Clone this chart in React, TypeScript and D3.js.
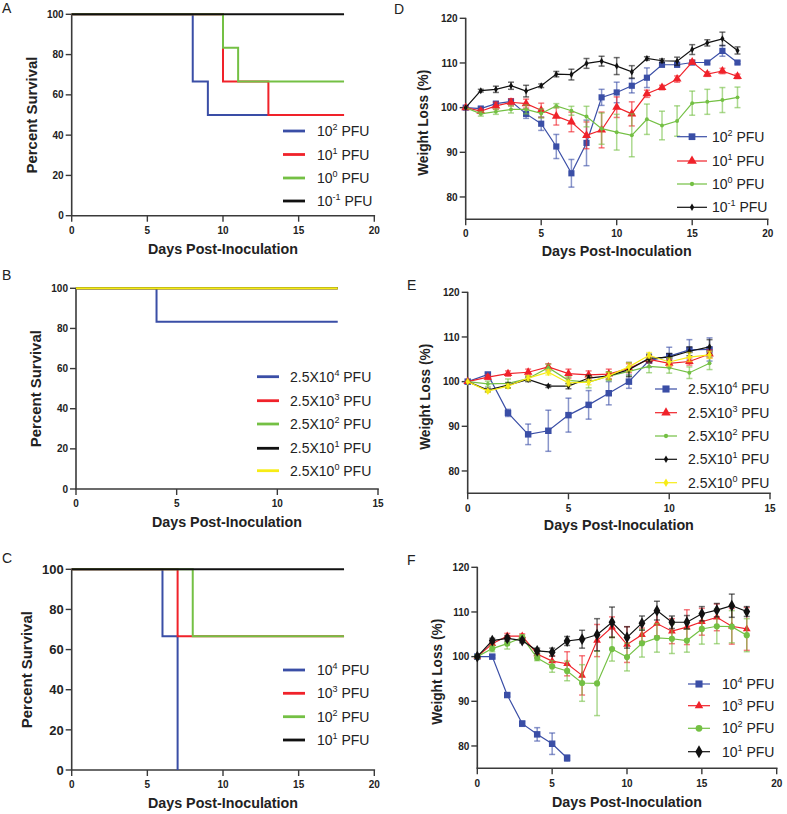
import React from "react";
import * as d3 from "d3";

// ---------------- DATA ----------------
const BLUE = "#3a4ea6";
const RED = "#f0222a";
const GREEN = "#74c044";
const BLACK = "#111111";
const YELLOW = "#f7ec16";

// Panel A survival (change points)
const aBlueDays = [0, 8, 9, 18];
const aBlueVals = [100, 66.67, 50, 50];
const aRedDays = [0, 10, 13, 18];
const aRedVals = [100, 66.67, 50, 50];
const aGreenDays = [0, 10, 11, 18];
const aGreenVals = [100, 83.33, 66.67, 66.67];
const aBlackDays = [0, 18];
const aBlackVals = [100, 100];
const aLegend = [["10", "2"], ["10", "1"], ["10", "0"], ["10", "-1"]];

// Panel B survival
const bBlueDays = [0, 4, 13];
const bBlueVals = [100, 83.33, 83.33];
const bFlatDays = [0, 13];
const bFlatVals = [100, 100];
const bLegend = [["2.5X10", "4"], ["2.5X10", "3"], ["2.5X10", "2"], ["2.5X10", "1"], ["2.5X10", "0"]];

// Panel C survival
const cBlueDays = [0, 6, 7];
const cBlueVals = [100, 66.67, 0];
const cRedDays = [0, 7, 18];
const cRedVals = [100, 66.67, 66.67];
const cGreenDays = [0, 8, 18];
const cGreenVals = [100, 66.67, 66.67];
const cBlackDays = [0, 18];
const cBlackVals = [100, 100];
const cLegend = [["10", "4"], ["10", "3"], ["10", "2"], ["10", "1"]];

// Panel D weight
const dDays = d3.range(0, 19);
const dBlueMean = [100, 99.8, 100.9, 101.4, 98.6, 96.4, 91.3, 85.3, 92.1, 102.3, 103.4, 104.9, 106.7, 109.6, 109.6, 110.1, 110.1, 112.7, 110.1];
const dBlueErr = [0, 0.3, 0.4, 0.5, 1.0, 1.5, 2.7, 3.1, 5.1, 1.8, 2.3, 1.6, 2.2, 0.5, 0.5, 0.3, 0.3, 1.2, 0.3];
const dRedMean = [100, 99.2, 100.4, 101.2, 100.9, 99.4, 98.1, 96.8, 93.8, 95.0, 100.1, 98.6, 103.1, 104.5, 106.4, 110.2, 107.5, 108.2, 107.0];
const dRedErr = [0, 0.5, 0.8, 0.8, 1.0, 1.6, 2.0, 2.2, 3.0, 4.0, 2.3, 2.7, 0.8, 0.5, 0.7, 0.4, 0.5, 0.6, 0.5];
const dGreenMean = [100, 98.6, 99.1, 99.6, 99.6, 98.7, 100.4, 99.3, 98.0, 95.3, 94.5, 93.8, 97.4, 96.0, 97.0, 101.0, 101.3, 101.7, 102.3];
const dGreenErr = [0, 0.5, 0.6, 0.8, 1.0, 1.0, 0.5, 1.0, 2.3, 3.5, 4.0, 4.8, 3.4, 3.2, 3.4, 2.7, 2.8, 2.8, 2.3];
const dBlackMean = [100, 103.8, 104.1, 104.9, 103.7, 104.9, 107.5, 107.4, 109.9, 110.4, 109.3, 108.0, 111.0, 110.5, 110.4, 113.0, 114.5, 115.4, 112.8];
const dBlackErr = [0, 0.3, 0.7, 0.8, 1.3, 0.4, 0.6, 1.2, 1.1, 1.1, 1.9, 1.4, 0.4, 0.4, 0.9, 1.1, 0.7, 1.5, 0.8];

// Panel E weight
const eDays = d3.range(0, 13);
const eBlueMean = [100, 101.6, 93.0, 88.2, 89.0, 92.5, 94.8, 97.4, 100.0, 104.7, 105.7, 107.1, 107.2];
const eBlueErr = [0, 0.3, 0.8, 2.3, 4.6, 3.8, 3.2, 2.6, 1.5, 1.5, 2.0, 2.3, 2.6];
const eRedMean = [100, 101.0, 101.8, 102.1, 103.3, 101.8, 101.5, 101.7, 103.0, 105.0, 104.1, 104.5, 106.2];
const eRedErr = [0, 0.5, 0.6, 0.7, 0.7, 1.0, 0.9, 1.1, 1.0, 0.8, 0.8, 0.8, 0.9];
const eGreenMean = [100, 99.5, 99.6, 100.7, 103.1, 100.3, 99.9, 101.2, 102.3, 103.4, 103.1, 102.0, 104.1];
const eGreenErr = [0, 0.6, 1.0, 0.5, 0.8, 0.8, 1.3, 1.0, 1.0, 1.4, 1.2, 1.3, 1.4];
const eBlackMean = [100, 98.1, 99.2, 100.5, 99.0, 99.0, 100.8, 101.3, 102.7, 105.2, 105.5, 106.8, 107.8];
const eBlackErr = [0, 0.4, 0.6, 0.5, 0.3, 0.6, 0.6, 0.8, 1.6, 0.8, 0.8, 1.0, 1.6];
const eYellowMean = [100, 97.9, 99.0, 100.8, 102.1, 99.7, 99.9, 101.3, 103.3, 105.9, 104.4, 105.5, 106.0];
const eYellowErr = [0, 0.3, 0.4, 0.5, 0.6, 0.6, 0.6, 0.8, 0.9, 0.6, 0.9, 1.0, 0.8];

// Panel F weight
const fDays = d3.range(0, 19);
const fBlueDays = d3.range(0, 7);
const fBlueMean = [100, 100.0, 91.4, 85.0, 82.6, 80.5, 77.3];
const fBlueErr = [0, 0.3, 0.3, 0.6, 1.5, 2.4, 0.7];
const fRedMean = [100, 102.9, 104.6, 104.6, 100.6, 99.0, 98.4, 95.8, 103.6, 106.6, 102.7, 104.9, 107.4, 105.7, 106.6, 107.8, 108.8, 106.8, 106.2];
const fRedErr = [0, 0.4, 0.6, 0.5, 0.8, 1.2, 2.7, 4.4, 3.6, 2.3, 4.0, 1.5, 2.8, 2.8, 3.9, 3.0, 3.0, 4.0, 4.8];
const fGreenMean = [100, 101.8, 102.9, 104.3, 99.7, 97.8, 96.8, 94.1, 94.0, 101.7, 99.9, 103.0, 104.2, 104.0, 103.6, 106.2, 106.8, 106.7, 104.8];
const fGreenErr = [0, 0.7, 1.2, 0.6, 0.6, 1.3, 2.2, 4.1, 7.2, 2.7, 3.1, 3.1, 3.2, 3.3, 2.6, 3.4, 3.9, 3.6, 3.7];
const fBlackMean = [100, 103.6, 104.1, 103.6, 101.3, 101.0, 103.5, 103.9, 104.9, 107.7, 104.3, 107.5, 110.3, 107.7, 107.7, 109.6, 110.4, 111.4, 110.1];
const fBlackErr = [0, 0.5, 0.6, 0.5, 0.6, 0.9, 1.0, 2.0, 3.6, 3.4, 2.4, 1.6, 2.1, 1.4, 1.5, 1.6, 1.5, 2.6, 1.1];

const survTicksY = [0, 20, 40, 60, 80, 100];
const weightTicksY = [80, 90, 100, 110, 120];
const ticks20 = [0, 5, 10, 15, 20];
const ticks15 = [0, 5, 10, 15];

// ---------------- RENDER ----------------
const FONT = "'Liberation Sans', Arial, Helvetica, sans-serif";
const AXIS = "#3a3a3a";

function LegendLabel({ x, y, base, sup }) {
  return (
    <text x={x} y={y + 5} fontFamily={FONT} fontSize={14} fill="#222">
      {base}
      <tspan fontSize={9} dy={-6}>{sup}</tspan>
      <tspan dy={6}> PFU</tspan>
    </text>
  );
}

function Axes({ xs, ys, xTicks, yTicks, yTickFont, xTitleY, xTickY, yTitleX, yTitleY, xTitleLen, yTitle, yTitleLen, letter, lx, ly }) {
  const [x0, x1] = xs.range();
  const yb = ys.range()[0];
  const yt = ys.range()[1];
  return (
    <g>
      <line x1={x0} x2={x0} y1={yb} y2={yt - 0.5} stroke={AXIS} strokeWidth={1.6} />
      <line x1={x0 - 0.8} x2={x1 + 0.8} y1={yb} y2={yb} stroke={AXIS} strokeWidth={1.6} />
      {yTicks.map((t) => (
        <g key={"y" + t}>
          <line x1={x0 - 6} x2={x0} y1={ys(t)} y2={ys(t)} stroke={AXIS} strokeWidth={1.4} />
          <text x={x0 - 8} y={ys(t) + yTickFont * 0.36} textAnchor="end" fontFamily={FONT} fontWeight="bold" fontSize={yTickFont} fill="#222">{t}</text>
        </g>
      ))}
      {xTicks.map((t) => (
        <g key={"x" + t}>
          <line x1={xs(t)} x2={xs(t)} y1={yb} y2={yb + 6} stroke={AXIS} strokeWidth={1.4} />
          <text x={xs(t)} y={xTickY} textAnchor="middle" fontFamily={FONT} fontWeight="bold" fontSize={10} fill="#222">{t}</text>
        </g>
      ))}
      <text x={(x0 + x1) / 2} y={xTitleY} textAnchor="middle" fontFamily={FONT} fontWeight="bold" fontSize={14} fill="#222" textLength={xTitleLen} lengthAdjust="spacingAndGlyphs">Days Post-Inoculation</text>
      <text transform={`translate(${yTitleX},${yTitleY}) rotate(-90)`} textAnchor="middle" fontFamily={FONT} fontWeight="bold" fontSize={14} fill="#222" textLength={yTitleLen} lengthAdjust="spacingAndGlyphs">{yTitle}</text>
      <text x={lx} y={ly} fontFamily={FONT} fontSize={14} fill="#222">{letter}</text>
    </g>
  );
}

function SurvivalPanel({ x0, x1, yTop, yBot, xMax, xTicks, series, legend, legendRows, yTickFont, xTickY, xTitleY, yTitleX, letter, lx, ly }) {
  const xs = d3.scaleLinear().domain([0, xMax]).range([x0, x1]);
  const ys = d3.scaleLinear().domain([0, 100]).range([yBot, yTop]);
  const line = d3.line().x((d) => xs(d[0])).y((d) => ys(d[1])).curve(d3.curveStepAfter);
  return (
    <g>
      <Axes xs={xs} ys={ys} xTicks={xTicks} yTicks={survTicksY} yTickFont={yTickFont} xTickY={xTickY} xTitleY={xTitleY}
        yTitleX={yTitleX} yTitleY={(yTop + yBot) / 2} xTitleLen={150} yTitle="Percent Survival" yTitleLen={117} letter={letter} lx={lx} ly={ly} />
      {series.map((s, i) => (
        <path key={i} d={line(s.days.map((d, j) => [d, s.vals[j]]))} fill="none" stroke={s.color} strokeWidth={2} />
      ))}
      {series.map((s, i) => (
        <g key={"l" + i}>
          <line x1={legend.lx1} x2={legend.lx2} y1={legendRows[i]} y2={legendRows[i]} stroke={s.color} strokeWidth={2.8} />
          <LegendLabel x={legend.tx} y={legendRows[i]} base={s.label[0]} sup={s.label[1]} />
        </g>
      ))}
    </g>
  );
}

function Marker({ shape, size, color, x, y }) {
  const sym = { square: d3.symbolSquare, triangle: d3.symbolTriangle, circle: d3.symbolCircle, diamond: d3.symbolDiamond }[shape];
  const p = d3.symbol().type(sym).size(size)();
  return <path d={p} transform={`translate(${x},${y})`} fill={color} />;
}

function WeightPanel({ x0, x1, yTop, yBot, xMax, xTicks, series, legend, legendRows, xTickY, xTitleY, yTitleX, letter, lx, ly }) {
  const xs = d3.scaleLinear().domain([0, xMax]).range([x0, x1]);
  const ys = d3.scaleLinear().domain([75, 120]).range([yBot, yTop]);
  const line = d3.line().x((d) => xs(d[0])).y((d) => ys(d[1]));
  return (
    <g>
      <Axes xs={xs} ys={ys} xTicks={xTicks} yTicks={weightTicksY} yTickFont={10} xTickY={xTickY} xTitleY={xTitleY}
        yTitleX={yTitleX} yTitleY={(ys(120) + ys(75)) / 2 + 4} xTitleLen={150} yTitle="Weight Loss (%)" yTitleLen={106} letter={letter} lx={lx} ly={ly} />
      {series.map((s, i) => (
        <g key={i}>
          <path d={line(s.days.map((d, j) => [d, s.mean[j]]))} fill="none" stroke={s.color} strokeWidth={1.2} />
          {s.days.map((d, j) =>
            s.err[j] > 0 ? (
              <g key={j} stroke={s.color} strokeOpacity={0.6} strokeWidth={1.5}>
                <line x1={xs(d)} x2={xs(d)} y1={ys(s.mean[j] - s.err[j])} y2={ys(s.mean[j] + s.err[j])} />
                <line x1={xs(d) - 3} x2={xs(d) + 3} y1={ys(s.mean[j] - s.err[j])} y2={ys(s.mean[j] - s.err[j])} />
                <line x1={xs(d) - 3} x2={xs(d) + 3} y1={ys(s.mean[j] + s.err[j])} y2={ys(s.mean[j] + s.err[j])} />
              </g>
            ) : null
          )}
          {s.days.map((d, j) => (
            <Marker key={"m" + j} shape={s.shape} size={s.size} color={s.color} x={xs(d)} y={ys(s.mean[j])} />
          ))}
        </g>
      ))}
      {series.map((s, i) => (
        <g key={"l" + i}>
          <line x1={legend.lx1} x2={legend.lx2} y1={legendRows[i]} y2={legendRows[i]} stroke={s.color} strokeWidth={1.2} />
          <Marker shape={s.shape} size={s.size * 1.2} color={s.color} x={(legend.lx1 + legend.lx2) / 2} y={legendRows[i]} />
          <LegendLabel x={legend.tx} y={legendRows[i]} base={s.label[0]} sup={s.label[1]} />
        </g>
      ))}
    </g>
  );
}

export default function App() {
  const aSeries = [
    { days: aBlueDays, vals: aBlueVals, color: BLUE, label: aLegend[0] },
    { days: aRedDays, vals: aRedVals, color: RED, label: aLegend[1] },
    { days: aGreenDays, vals: aGreenVals, color: GREEN, label: aLegend[2] },
    { days: aBlackDays, vals: aBlackVals, color: BLACK, label: aLegend[3] },
  ];
  const bSeries = [
    { days: bBlueDays, vals: bBlueVals, color: BLUE, label: bLegend[0] },
    { days: bFlatDays, vals: bFlatVals, color: RED, label: bLegend[1] },
    { days: bFlatDays, vals: bFlatVals, color: GREEN, label: bLegend[2] },
    { days: bFlatDays, vals: bFlatVals, color: BLACK, label: bLegend[3] },
    { days: bFlatDays, vals: bFlatVals, color: YELLOW, label: bLegend[4] },
  ];
  const cSeries = [
    { days: cBlueDays, vals: cBlueVals, color: BLUE, label: cLegend[0] },
    { days: cRedDays, vals: cRedVals, color: RED, label: cLegend[1] },
    { days: cGreenDays, vals: cGreenVals, color: GREEN, label: cLegend[2] },
    { days: cBlackDays, vals: cBlackVals, color: BLACK, label: cLegend[3] },
  ];
  const dSeries = [
    { days: dDays, mean: dBlueMean, err: dBlueErr, color: BLUE, shape: "square", size: 38, label: aLegend[0] },
    { days: dDays, mean: dRedMean, err: dRedErr, color: RED, shape: "triangle", size: 34, label: aLegend[1] },
    { days: dDays, mean: dGreenMean, err: dGreenErr, color: GREEN, shape: "circle", size: 12, label: aLegend[2] },
    { days: dDays, mean: dBlackMean, err: dBlackErr, color: BLACK, shape: "diamond", size: 14, label: aLegend[3] },
  ];
  const eSeries = [
    { days: eDays, mean: eBlueMean, err: eBlueErr, color: BLUE, shape: "square", size: 42, label: bLegend[0] },
    { days: eDays, mean: eRedMean, err: eRedErr, color: RED, shape: "triangle", size: 32, label: bLegend[1] },
    { days: eDays, mean: eGreenMean, err: eGreenErr, color: GREEN, shape: "circle", size: 12, label: bLegend[2] },
    { days: eDays, mean: eBlackMean, err: eBlackErr, color: BLACK, shape: "diamond", size: 14, label: bLegend[3] },
    { days: eDays, mean: eYellowMean, err: eYellowErr, color: YELLOW, shape: "diamond", size: 18, label: bLegend[4] },
  ];
  const fSeries = [
    { days: fBlueDays, mean: fBlueMean, err: fBlueErr, color: BLUE, shape: "square", size: 42, label: cLegend[0] },
    { days: fDays, mean: fRedMean, err: fRedErr, color: RED, shape: "triangle", size: 26, label: cLegend[1] },
    { days: fDays, mean: fGreenMean, err: fGreenErr, color: GREEN, shape: "circle", size: 30, label: cLegend[2] },
    { days: fDays, mean: fBlackMean, err: fBlackErr, color: BLACK, shape: "diamond", size: 40, label: cLegend[3] },
  ];

  return (
    <svg width={787} height={814} style={{ position: "absolute", left: 0, top: 0, background: "#fff" }}>
      <rect width={787} height={814} fill="#fff" />
      <SurvivalPanel x0={71.7} x1={374.3} yTop={14.3} yBot={215.7} xMax={20} xTicks={ticks20} series={aSeries}
        legend={{ lx1: 283, lx2: 305, tx: 317 }} legendRows={[131, 154.5, 178, 201]} yTickFont={10}
        xTickY={233.5} xTitleY={254} yTitleX={37} letter="A" lx={2} ly={13} />
      <SurvivalPanel x0={76} x1={378} yTop={288.3} yBot={489} xMax={15} xTicks={ticks15} series={bSeries}
        legend={{ lx1: 257, lx2: 279, tx: 290 }} legendRows={[376.7, 400.7, 424, 448.3, 470.7]} yTickFont={10}
        xTickY={507} xTitleY={527} yTitleX={41} letter="B" lx={2} ly={280} />
      <SurvivalPanel x0={71.7} x1={374.3} yTop={569.3} yBot={770} xMax={20} xTicks={ticks20} series={cSeries}
        legend={{ lx1: 283, lx2: 305, tx: 317 }} legendRows={[670, 693.3, 716.7, 740]} yTickFont={13}
        xTickY={788} xTitleY={808} yTitleX={31.5} letter="C" lx={2} ly={563} />
      <WeightPanel x0={465.7} x1={767.7} yTop={18.3} yBot={219.3} xMax={20} xTicks={ticks20} series={dSeries}
        legend={{ lx1: 677, lx2: 707, tx: 712 }} legendRows={[136.7, 161, 184, 207.3]}
        xTickY={236.5} xTitleY={256} yTitleX={428} letter="D" lx={394} ly={14} />
      <WeightPanel x0={467.7} x1={770} yTop={292.3} yBot={493.3} xMax={15} xTicks={ticks15} series={eSeries}
        legend={{ lx1: 655, lx2: 677, tx: 688 }} legendRows={[389, 412.7, 436, 459.3, 482.7]}
        xTickY={511.5} xTitleY={530} yTitleX={430} letter="E" lx={407} ly={290} />
      <WeightPanel x0={477.3} x1={776.7} yTop={567.3} yBot={768.3} xMax={20} xTicks={ticks20} series={fSeries}
        legend={{ lx1: 688, lx2: 710, tx: 722 }} legendRows={[684, 705.7, 728.3, 751.7]}
        xTickY={787} xTitleY={806.5} yTitleX={442} letter="F" lx={407} ly={565} />
    </svg>
  );
}
